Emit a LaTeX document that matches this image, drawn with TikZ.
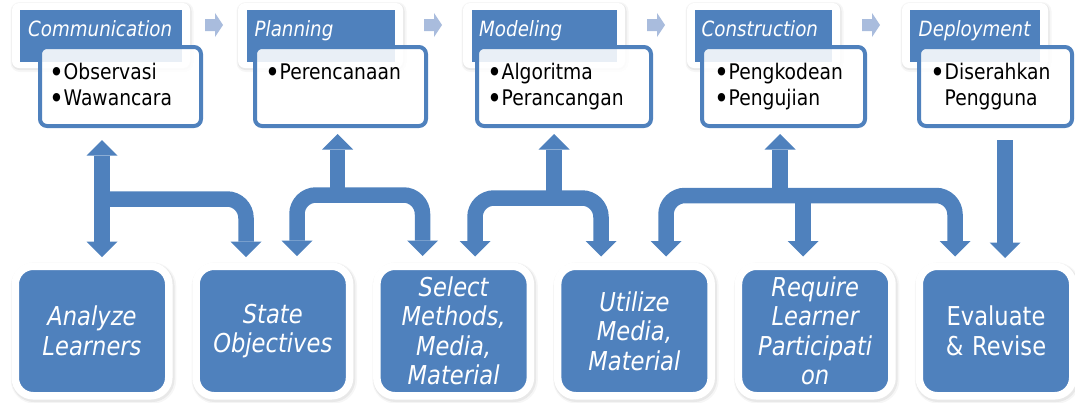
\documentclass[tikz,border=0pt]{standalone}
\usepackage{fontspec}
\setmainfont{DejaVu Sans}[FakeStretch=0.87]
\usetikzlibrary{calc,arrows.meta,shadows}
\definecolor{accent}{HTML}{4F81BD}
\definecolor{flowblue}{HTML}{A9BCDD}
% bullet followed by its item text
\newcommand\bitem[1]{\makebox[7pt][c]{\smash{\raisebox{-3.8pt}{\fontsize{29}{26}\selectfont •}}}\hspace{3pt}#1}
\newcommand\bindent{\makebox[7pt]{}\hspace{3pt}}

\begin{document}
\begin{tikzpicture}[x=1pt,y=-1pt,
  phasebg/.style={fill=white, rounded corners=7pt, inner sep=0pt, minimum height=65pt,
    general shadow={draw=black, line width=5pt, opacity=0.035, shadow xshift=1pt, shadow yshift=-1.5pt},
    general shadow={draw=black, line width=2pt, opacity=0.06, shadow xshift=0.5pt, shadow yshift=-1pt}},
  phasetitle/.style={fill=accent, inner sep=0pt, minimum height=52pt},
  titletext/.style={text=white, font=\fontsize{21}{25}\selectfont\itshape, inner sep=0pt, anchor=base west},
  taskbox/.style={draw=accent, line width=4pt, fill=white, fill opacity=0.88,
    rounded corners=7pt, inner sep=0pt, minimum height=79pt},
  tasktext/.style={font=\fontsize{21.5}{26}\selectfont, inner sep=0pt, anchor=base west},
  stepbox/.style={fill=accent, draw=white, line width=7.5pt, rounded corners=18pt,
    minimum width=153.5pt, minimum height=129.5pt, inner sep=0pt,
    text width=146pt, align=center, text=white,
    font=\fontsize{26}{29.5}\selectfont\itshape,
    general shadow={draw=black, line width=12pt, opacity=0.035, shadow xshift=1.5pt, shadow yshift=-2pt},
    general shadow={draw=black, line width=9.5pt, opacity=0.06, shadow xshift=1pt, shadow yshift=-1.5pt}},
  link/.style={draw=accent, line width=15.5pt, rounded corners=19pt,
    >={Triangle[width=31pt,length=15.5pt,line width=0pt]}},
  flowtip/.pic={\fill[flowblue] (-9,-6) -- (1,-6) -- (1,-12) -- (9,0) -- (1,12) -- (1,6) -- (-9,6) -- cycle;}
]
\useasboundingbox (0,0) rectangle (1075,402);

% ---- phases of the process ----
\node[phasebg, minimum width=178pt] (o1) at (101,35.5) {};
\node[phasetitle, minimum width=162pt] (h1) at (101,36) {};
\node[titletext] (l1) at (28,36) {Communication};
\node[taskbox, minimum width=161pt] (p1) at (120.5,86.5) {};
\node[tasktext] (t1a) at (53.5,79) {\bitem{Observasi}};
\node[tasktext] (t1b) at (53.5,105) {\bitem{Wawancara}};

\node[phasebg, minimum width=165pt] (o2) at (320.5,35.5) {};
\node[phasetitle, minimum width=148pt] (h2) at (321,36) {};
\node[titletext] (l2) at (254.5,36) {Planning};
\node[taskbox, minimum width=171pt] (p2) at (340.5,86.5) {};
\node[tasktext] (t2a) at (269.5,79) {\bitem{Perencanaan}};

\node[phasebg, minimum width=162pt] (o3) at (544,35.5) {};
\node[phasetitle, minimum width=145pt] (h3) at (544.5,36) {};
\node[titletext] (l3) at (479,36) {Modeling};
\node[taskbox, minimum width=174pt] (p3) at (564,86.5) {};
\node[tasktext] (t3a) at (491.5,79) {\bitem{Algoritma}};
\node[tasktext] (t3b) at (491.5,105) {\bitem{Perancangan}};

\node[phasebg, minimum width=153pt] (o4) at (763.5,35.5) {};
\node[phasetitle, minimum width=137pt] (h4) at (763.5,36) {};
\node[titletext] (l4) at (701.5,36) {Construction};
\node[taskbox, minimum width=163pt] (p4) at (783.5,86.5) {};
\node[tasktext] (t4a) at (718.5,79) {\bitem{Pengkodean}};
\node[tasktext] (t4b) at (718.5,105) {\bitem{Pengujian}};

\node[phasebg, minimum width=146pt] (o5) at (975,35.5) {};
\node[phasetitle, minimum width=130pt] (h5) at (975,36) {};
\node[titletext] (l5) at (918.5,36) {Deployment};
\node[taskbox, minimum width=153pt] (p5) at (995.5,86.5) {};
\node[tasktext] (t5a) at (934.5,79) {\bitem{Diserahkan}};
\node[tasktext] (t5b) at (934.5,105) {\bindent Pengguna};

% flow between phases
\path ($(o1.east)!0.5!(o2.west)$) ++(0,-10.5) pic {flowtip};
\path ($(o2.east)!0.5!(o3.west)$) ++(0,-10.5) pic {flowtip};
\path ($(o3.east)!0.5!(o4.west)$) ++(0,-10.5) pic {flowtip};
\path ($(o4.east)!0.5!(o5.west)$) ++(0,-10.5) pic {flowtip};

% ---- ASSURE steps ----
\node[stepbox] (s1) at (92,331) {Analyze\\Learners};
\node[stepbox] (s2) at (272.8,331) {State\\Objectives};
\node[stepbox] (s3) at (453.6,331) {Select\\Methods,\\Media,\\Material};
\node[stepbox] (s4) at (634.4,331) {Utilize\\Media,\\Material};
\node[stepbox] (s5) at (815.2,331) {Require\\Learner\\Participati\\on};
\node[stepbox, font=\fontsize{26}{29.5}\selectfont] (s6) at (996,331) {Evaluate\\\& Revise};

% ---- links between phases and steps ----
\draw[link,<->] ($(p1.south)+(-18.5,12)$) -- ($(s1.north)+(10,-5.5)$);
\draw[link,->] ($(p1.south)+(-18.5,71)$) -| ($(s2.north)+(-26.8,-5.5)$);

\draw[link,->] ($(p2.south)+(-3,67)$) -- ($(p2.south)+(-3,6)$);
\draw[link,<->] ($(s2.north)+(24.2,-6.5)$) |- ($(p2.south)+(-3,67)$) -| ($(s3.north)+(-31.1,-6.5)$);

\draw[link,->] ($(p3.south)+(-10,70)$) -- ($(p3.south)+(-10,6)$);
\draw[link,<->] ($(s3.north)+(21.4,-6)$) |- ($(p3.south)+(-10,70)$) -| ($(s4.north)+(-33.4,-6)$);

\draw[link,->] ($(p4.south)+(-3.5,67.5)$) -- ($(p4.south)+(-3.5,6)$);
\draw[link,<->] ($(s4.north)+(31.6,-6)$) |- ($(p4.south)+(-3.5,67.5)$) -| ($(s6.north)+(-41,-6)$);
\draw[link,->] ($(p4.south)+(19.5,67.5)$) -- ($(s5.north)+(-12.2,-6)$);

\draw[link,->] ($(p5.south)+(9.5,12)$) -- ($(s6.north)+(9,-4.5)$);
\end{tikzpicture}
\end{document}
